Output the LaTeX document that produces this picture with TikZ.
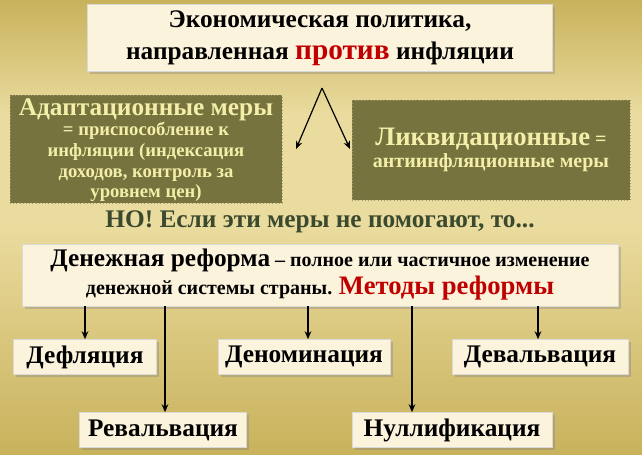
\documentclass[tikz,border=0pt]{standalone}
\usepackage{fontspec}
\setmainfont{Liberation Serif}
\usetikzlibrary{arrows.meta,shadows}
\definecolor{bgA}{HTML}{C8B25C}
\definecolor{bgB}{HTML}{EADB9E}
\definecolor{cream}{HTML}{FBF3DC}
\definecolor{olive}{HTML}{76733F}
\definecolor{olivetxt}{HTML}{F4EFA8}
\definecolor{nogreen}{HTML}{3B4A2E}
\definecolor{redt}{HTML}{C00000}
\begin{document}
\begin{tikzpicture}[x=0.75pt,y=-0.75pt,
  cbox/.style={draw=white!85!black,fill=cream,inner sep=0pt,drop shadow={shadow xshift=2pt,shadow yshift=-2pt,opacity=0.35}},
  obox/.style={draw=olive!70!white,dotted,fill=olive,inner sep=0pt},
  arr/.style={-{Stealth[length=6pt,width=5pt]},line width=1.1pt,black},
  bf/.style={font=\bfseries}]
\useasboundingbox (0,0) rectangle (642,454);
\shade[top color=bgA,bottom color=bgB,middle color=bgB] (0,0) rectangle (642,227);
\shade[top color=bgB,bottom color=bgA] (0,227) rectangle (642,454);
% title
\node[cbox,minimum width=465*0.75pt,minimum height=67*0.75pt,align=center,font=\bfseries\fontsize{19}{24}\selectfont] (title) at (320,38)
 {Экономическая политика,\\ направленная {\color{redt}\fontsize{22}{24}\selectfont против} инфляции};
% olive boxes
\node[obox,minimum width=272*0.75pt,minimum height=108*0.75pt] (adapt) at (146,149) {};
\node[align=center,text=olivetxt,font=\bfseries\fontsize{14}{15.5}\selectfont] at (146,150)
 {{\fontsize{19}{21}\selectfont Адаптационные меры}\\ = приспособление к\\ инфляции (индексация\\ доходов, контроль за\\ уровнем цен)};
\node[obox,minimum width=278*0.75pt,minimum height=100*0.75pt] (liq) at (491,150) {};
\node[align=center,text=olivetxt,font=\bfseries\fontsize{15}{17}\selectfont] at (491,150)
 {{\fontsize{20}{21}\selectfont Ликвидационные} =\\ антиинфляционные меры};
\coordinate (apex) at (322,88);
\coordinate (lt) at (296,149);
\coordinate (rt) at (350,149);
\draw[arr,line width=0.9pt] (apex) -- (lt);
\draw[arr,line width=0.9pt] (apex) -- (rt);
\node[text=nogreen,font=\bfseries\fontsize{19}{21}\selectfont] (no) at (320,222) {НО! Если эти меры не помогают, то...};
% reform
\node[cbox,minimum width=596*0.75pt,minimum height=62*0.75pt] (ref) at (320,275) {};
\node[align=center,font=\bfseries\fontsize{15}{21}\selectfont] at (320,275)
 {{\fontsize{19}{21}\selectfont Денежная реформа} – полное или частичное изменение\\ денежной системы страны. {\color{redt}\fontsize{20}{21}\selectfont Методы реформы}};
\tikzset{mbox/.style={cbox,minimum height=35*0.75pt,font=\bfseries\fontsize{19}{21}\selectfont}}
\node[mbox,minimum width=143*0.75pt] (defl) at (85,357) {Дефляция};
\node[mbox,minimum width=172*0.75pt] (denom) at (304,357) {Деноминация};
\node[mbox,minimum width=176*0.75pt] (deval) at (540,357) {Девальвация};
\node[mbox,minimum width=167*0.75pt] (reval) at (163,430) {Ревальвация};
\node[mbox,minimum width=200*0.75pt] (null) at (452,430) {Нуллификация};
\draw[arr] (ref.south -| 85,0) -- (defl.north);
\draw[arr] (ref.south -| 165,0) -- (reval.north -| 165,0);
\draw[arr] (ref.south -| 308,0) -- (denom.north -| 308,0);
\draw[arr] (ref.south -| 412,0) -- (null.north -| 412,0);
\draw[arr] (ref.south -| 538,0) -- (deval.north -| 538,0);
\end{tikzpicture}
\end{document}
